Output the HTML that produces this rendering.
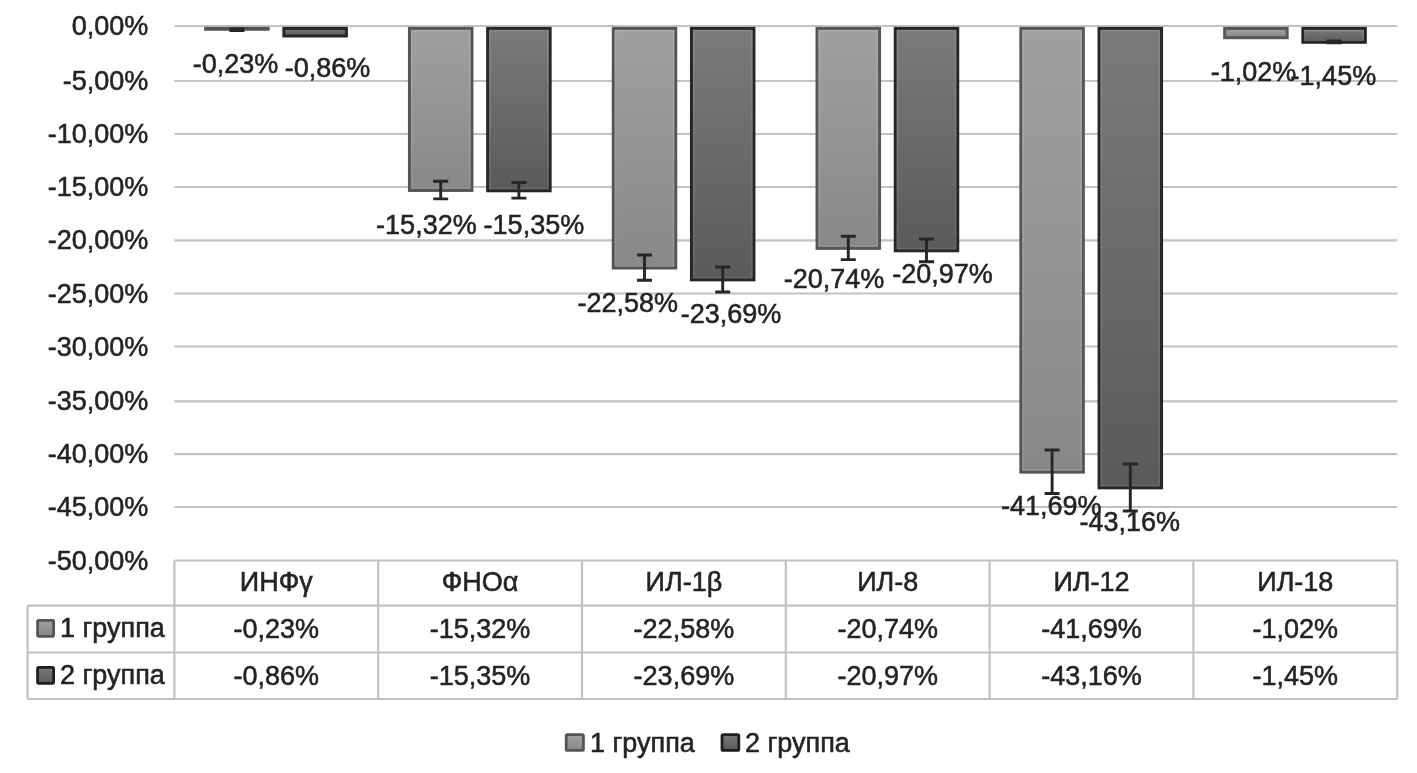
<!DOCTYPE html><html><head><meta charset="utf-8"><style>html,body{margin:0;padding:0;background:#fff;overflow:hidden}svg{display:block}text{font-family:"Liberation Sans",sans-serif;fill:#242424;stroke:#242424;stroke-width:0.55px}svg{will-change:transform}</style></head><body>
<svg width="1417" height="773" viewBox="0 0 1417 773">
<defs><linearGradient id="g1" x1="0" y1="0" x2="0" y2="1"><stop offset="0" stop-color="#a0a0a0"/><stop offset="1" stop-color="#888888"/></linearGradient><linearGradient id="g2" x1="0" y1="0" x2="0" y2="1"><stop offset="0" stop-color="#7a7a7a"/><stop offset="1" stop-color="#5a5a5a"/></linearGradient><linearGradient id="k1" x1="0" y1="0" x2="0" y2="1"><stop offset="0" stop-color="#a0a0a0"/><stop offset="1" stop-color="#888888"/></linearGradient><linearGradient id="h1" x1="0" y1="0" x2="0" y2="1"><stop offset="0" stop-color="#ababab"/><stop offset="1" stop-color="#939393"/></linearGradient><linearGradient id="h2" x1="0" y1="0" x2="0" y2="1"><stop offset="0" stop-color="#888888"/><stop offset="1" stop-color="#686868"/></linearGradient></defs>
<rect width="1417" height="773" fill="#fff"/>
<line x1="174.4" y1="26.0" x2="1397.2" y2="26.0" stroke="#c2c2c2" stroke-width="2.2"/>
<line x1="174.4" y1="81" x2="1397.2" y2="81" stroke="#c2c2c2" stroke-width="2.2"/>
<line x1="174.4" y1="134" x2="1397.2" y2="134" stroke="#c2c2c2" stroke-width="2.2"/>
<line x1="174.4" y1="187" x2="1397.2" y2="187" stroke="#c2c2c2" stroke-width="2.2"/>
<line x1="174.4" y1="240.4" x2="1397.2" y2="240.4" stroke="#c2c2c2" stroke-width="2.2"/>
<line x1="174.4" y1="293.5" x2="1397.2" y2="293.5" stroke="#c2c2c2" stroke-width="2.2"/>
<line x1="174.4" y1="346.5" x2="1397.2" y2="346.5" stroke="#c2c2c2" stroke-width="2.2"/>
<line x1="174.4" y1="401.3" x2="1397.2" y2="401.3" stroke="#c2c2c2" stroke-width="2.2"/>
<line x1="174.4" y1="454.1" x2="1397.2" y2="454.1" stroke="#c2c2c2" stroke-width="2.2"/>
<line x1="174.4" y1="507" x2="1397.2" y2="507" stroke="#c2c2c2" stroke-width="2.2"/>
<line x1="174.4" y1="560.5" x2="1397.2" y2="560.5" stroke="#c2c2c2" stroke-width="2.2"/>
<line x1="27.6" y1="605.6" x2="1397.2" y2="605.6" stroke="#c2c2c2" stroke-width="2.2"/>
<line x1="27.6" y1="652.5" x2="1397.2" y2="652.5" stroke="#c2c2c2" stroke-width="2.2"/>
<line x1="27.6" y1="699" x2="1397.2" y2="699" stroke="#c2c2c2" stroke-width="2.2"/>
<line x1="27.6" y1="605.6" x2="27.6" y2="699" stroke="#c2c2c2" stroke-width="2.2"/>
<line x1="174.4" y1="560.5" x2="174.4" y2="699" stroke="#c2c2c2" stroke-width="2.2"/>
<line x1="378.2" y1="560.5" x2="378.2" y2="699" stroke="#c2c2c2" stroke-width="2.2"/>
<line x1="582" y1="560.5" x2="582" y2="699" stroke="#c2c2c2" stroke-width="2.2"/>
<line x1="785.8" y1="560.5" x2="785.8" y2="699" stroke="#c2c2c2" stroke-width="2.2"/>
<line x1="989.6" y1="560.5" x2="989.6" y2="699" stroke="#c2c2c2" stroke-width="2.2"/>
<line x1="1193.4" y1="560.5" x2="1193.4" y2="699" stroke="#c2c2c2" stroke-width="2.2"/>
<line x1="1397.2" y1="560.5" x2="1397.2" y2="699" stroke="#c2c2c2" stroke-width="2.2"/>
<rect x="205.65" y="28.40" width="62.50" height="0.86" fill="url(#g1)" stroke="#555555" stroke-width="3.0"/>
<rect x="283.85" y="28.40" width="62.50" height="7.59" fill="url(#g2)" stroke="#262626" stroke-width="3.0"/>
<rect x="409.45" y="28.40" width="62.50" height="162.05" fill="url(#g1)" stroke="#555555" stroke-width="3.0"/>
<rect x="411.70" y="30.65" width="58.00" height="157.55" fill="none" stroke="url(#h1)" stroke-width="1.5"/>
<rect x="487.65" y="28.40" width="62.50" height="162.37" fill="url(#g2)" stroke="#262626" stroke-width="3.0"/>
<rect x="489.90" y="30.65" width="58.00" height="157.87" fill="none" stroke="url(#h2)" stroke-width="1.5"/>
<rect x="613.25" y="28.40" width="62.50" height="239.60" fill="url(#g1)" stroke="#555555" stroke-width="3.0"/>
<rect x="615.50" y="30.65" width="58.00" height="235.10" fill="none" stroke="url(#h1)" stroke-width="1.5"/>
<rect x="691.45" y="28.40" width="62.50" height="251.46" fill="url(#g2)" stroke="#262626" stroke-width="3.0"/>
<rect x="693.70" y="30.65" width="58.00" height="246.96" fill="none" stroke="url(#h2)" stroke-width="1.5"/>
<rect x="817.05" y="28.40" width="62.50" height="219.94" fill="url(#g1)" stroke="#555555" stroke-width="3.0"/>
<rect x="819.30" y="30.65" width="58.00" height="215.44" fill="none" stroke="url(#h1)" stroke-width="1.5"/>
<rect x="895.25" y="28.40" width="62.50" height="222.40" fill="url(#g2)" stroke="#262626" stroke-width="3.0"/>
<rect x="897.50" y="30.65" width="58.00" height="217.90" fill="none" stroke="url(#h2)" stroke-width="1.5"/>
<rect x="1020.85" y="28.40" width="62.50" height="443.73" fill="url(#g1)" stroke="#555555" stroke-width="3.0"/>
<rect x="1023.10" y="30.65" width="58.00" height="439.23" fill="none" stroke="url(#h1)" stroke-width="1.5"/>
<rect x="1099.05" y="28.40" width="62.50" height="459.44" fill="url(#g2)" stroke="#262626" stroke-width="3.0"/>
<rect x="1101.30" y="30.65" width="58.00" height="454.94" fill="none" stroke="url(#h2)" stroke-width="1.5"/>
<rect x="1224.65" y="28.40" width="62.50" height="9.30" fill="url(#g1)" stroke="#555555" stroke-width="3.0"/>
<rect x="1302.85" y="28.40" width="62.50" height="13.89" fill="url(#g2)" stroke="#262626" stroke-width="3.0"/>
<rect x="1305.10" y="30.65" width="58.00" height="9.39" fill="none" stroke="url(#h2)" stroke-width="1.5"/>
<path d="M236.90 28.86V30.66M229.40 28.86H244.40M229.40 30.66H244.40" stroke="#262626" stroke-width="2.9" fill="none"/>
<path d="M440.70 181.25V198.85M433.20 181.25H448.20M433.20 198.85H448.20" stroke="#262626" stroke-width="2.9" fill="none"/>
<path d="M518.90 182.57V198.17M511.40 182.57H526.40M511.40 198.17H526.40" stroke="#262626" stroke-width="2.9" fill="none"/>
<path d="M644.50 255.00V280.20M637.00 255.00H652.00M637.00 280.20H652.00" stroke="#262626" stroke-width="2.9" fill="none"/>
<path d="M722.70 266.96V291.96M715.20 266.96H730.20M715.20 291.96H730.20" stroke="#262626" stroke-width="2.9" fill="none"/>
<path d="M848.30 236.24V259.64M840.80 236.24H855.80M840.80 259.64H855.80" stroke="#262626" stroke-width="2.9" fill="none"/>
<path d="M926.50 239.00V261.80M919.00 239.00H934.00M919.00 261.80H934.00" stroke="#262626" stroke-width="2.9" fill="none"/>
<path d="M1052.10 450.03V493.43M1044.60 450.03H1059.60M1044.60 493.43H1059.60" stroke="#262626" stroke-width="2.9" fill="none"/>
<path d="M1130.30 463.94V510.94M1122.80 463.94H1137.80M1122.80 510.94H1137.80" stroke="#262626" stroke-width="2.9" fill="none"/>
<path d="M1334.10 40.89V42.89M1326.60 40.89H1341.60M1326.60 42.89H1341.60" stroke="#262626" stroke-width="2.9" fill="none"/>
<text x="235.6" y="73.1" font-size="27" text-anchor="middle">-0,23%</text>
<text x="426.4" y="233.9" font-size="27" text-anchor="middle">-15,32%</text>
<text x="627.8" y="312.4" font-size="27" text-anchor="middle">-22,58%</text>
<text x="834.1" y="288.4" font-size="27" text-anchor="middle">-20,74%</text>
<text x="1051.2" y="515.1" font-size="27" text-anchor="middle">-41,69%</text>
<text x="1253.6" y="80.7" font-size="27" text-anchor="middle">-1,02%</text>
<text x="327.5" y="77.4" font-size="27" text-anchor="middle">-0,86%</text>
<text x="533.9" y="233.9" font-size="27" text-anchor="middle">-15,35%</text>
<text x="731.1" y="322.6" font-size="27" text-anchor="middle">-23,69%</text>
<text x="942.5" y="282.9" font-size="27" text-anchor="middle">-20,97%</text>
<text x="1129.7" y="530.5" font-size="27" text-anchor="middle">-43,16%</text>
<text x="1333.4" y="85.0" font-size="27" text-anchor="middle">-1,45%</text>
<text x="148.3" y="35.00" font-size="27" text-anchor="end">0,00%</text>
<text x="148.3" y="90.00" font-size="27" text-anchor="end">-5,00%</text>
<text x="148.3" y="143.00" font-size="27" text-anchor="end">-10,00%</text>
<text x="148.3" y="196.00" font-size="27" text-anchor="end">-15,00%</text>
<text x="148.3" y="249.40" font-size="27" text-anchor="end">-20,00%</text>
<text x="148.3" y="302.50" font-size="27" text-anchor="end">-25,00%</text>
<text x="148.3" y="355.50" font-size="27" text-anchor="end">-30,00%</text>
<text x="148.3" y="410.30" font-size="27" text-anchor="end">-35,00%</text>
<text x="148.3" y="463.10" font-size="27" text-anchor="end">-40,00%</text>
<text x="148.3" y="516.00" font-size="27" text-anchor="end">-45,00%</text>
<text x="148.3" y="569.50" font-size="27" text-anchor="end">-50,00%</text>
<text x="276.3" y="591" font-size="27" text-anchor="middle">ИНФγ</text>
<text x="276.3" y="638" font-size="27" text-anchor="middle">-0,23%</text>
<text x="276.3" y="684.8" font-size="27" text-anchor="middle">-0,86%</text>
<text x="480.1" y="591" font-size="27" text-anchor="middle">ФНОα</text>
<text x="480.1" y="638" font-size="27" text-anchor="middle">-15,32%</text>
<text x="480.1" y="684.8" font-size="27" text-anchor="middle">-15,35%</text>
<text x="683.9" y="591" font-size="27" text-anchor="middle">ИЛ-1β</text>
<text x="683.9" y="638" font-size="27" text-anchor="middle">-22,58%</text>
<text x="683.9" y="684.8" font-size="27" text-anchor="middle">-23,69%</text>
<text x="887.7" y="591" font-size="27" text-anchor="middle">ИЛ-8</text>
<text x="887.7" y="638" font-size="27" text-anchor="middle">-20,74%</text>
<text x="887.7" y="684.8" font-size="27" text-anchor="middle">-20,97%</text>
<text x="1091.5" y="591" font-size="27" text-anchor="middle">ИЛ-12</text>
<text x="1091.5" y="638" font-size="27" text-anchor="middle">-41,69%</text>
<text x="1091.5" y="684.8" font-size="27" text-anchor="middle">-43,16%</text>
<text x="1295.3" y="591" font-size="27" text-anchor="middle">ИЛ-18</text>
<text x="1295.3" y="638" font-size="27" text-anchor="middle">-1,02%</text>
<text x="1295.3" y="684.8" font-size="27" text-anchor="middle">-1,45%</text>
<rect x="37.6" y="620.3" width="16.0" height="16.0" rx="1.2" fill="url(#g1)" stroke="#555555" stroke-width="2.8"/>
<rect x="37.6" y="667.3" width="16.0" height="16.0" rx="1.2" fill="url(#g2)" stroke="#1e1e1e" stroke-width="2.8"/>
<text x="60" y="636.7" font-size="27">1 группа</text>
<text x="60" y="683.5" font-size="27">2 группа</text>
<rect x="566.2" y="734.6" width="17.2" height="15.8" rx="1.2" fill="url(#g1)" stroke="#555555" stroke-width="2.8"/>
<rect x="722.0" y="734.6" width="16.8" height="15.8" rx="1.2" fill="url(#g2)" stroke="#1e1e1e" stroke-width="2.8"/>
<text x="590" y="752.4" font-size="27">1 группа</text>
<text x="745" y="752.4" font-size="27">2 группа</text>
</svg></body></html>
